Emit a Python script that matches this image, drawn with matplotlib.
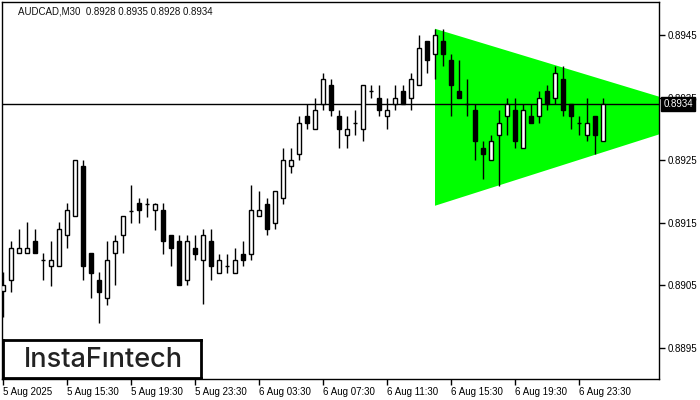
import matplotlib
matplotlib.use("Agg")
import matplotlib.pyplot as plt
from matplotlib.patches import Polygon, Rectangle

# ---- data (AUDCAD M30) ----
opens = [0.89040, 0.89059, 0.89101, 0.89101, 0.89120, 0.89091, 0.89080, 0.89080, 0.89130, 0.89160,
         0.89240, 0.89101, 0.89059, 0.89030, 0.89101, 0.89130, 0.89169, 0.89181, 0.89180, 0.89170,
         0.89170, 0.89130, 0.89120, 0.89059, 0.89110, 0.89090, 0.89120, 0.89070, 0.89080, 0.89070,
         0.89100, 0.89100, 0.89160, 0.89180, 0.89150, 0.89190, 0.89240, 0.89260, 0.89320, 0.89300,
         0.89340, 0.89370, 0.89320, 0.89290, 0.89310, 0.89300, 0.89360, 0.89350, 0.89320, 0.89340,
         0.89360, 0.89350, 0.89370, 0.89440, 0.89420, 0.89440, 0.89410, 0.89360, 0.89340, 0.89330,
         0.89270, 0.89250, 0.89290, 0.89320, 0.89330, 0.89270, 0.89320, 0.89320, 0.89360, 0.89350,
         0.89380, 0.89340, 0.89310, 0.89290, 0.89320, 0.89280]
highs = [0.89071, 0.89121, 0.89140, 0.89151, 0.89140, 0.89101, 0.89120, 0.89151, 0.89182, 0.89250,
         0.89250, 0.89101, 0.89071, 0.89120, 0.89130, 0.89160, 0.89210, 0.89190, 0.89190, 0.89181,
         0.89181, 0.89130, 0.89130, 0.89130, 0.89130, 0.89140, 0.89140, 0.89100, 0.89100, 0.89110,
         0.89120, 0.89210, 0.89200, 0.89190, 0.89200, 0.89270, 0.89270, 0.89320, 0.89340, 0.89350,
         0.89390, 0.89380, 0.89330, 0.89320, 0.89330, 0.89370, 0.89370, 0.89370, 0.89350, 0.89370,
         0.89370, 0.89390, 0.89450, 0.89440, 0.89460, 0.89460, 0.89420, 0.89410, 0.89380, 0.89340,
         0.89280, 0.89290, 0.89330, 0.89350, 0.89350, 0.89340, 0.89340, 0.89360, 0.89370, 0.89400,
         0.89400, 0.89340, 0.89320, 0.89350, 0.89320, 0.89350]
lows = [0.88999, 0.89039, 0.89101, 0.89101, 0.89101, 0.89059, 0.89049, 0.89080, 0.89110, 0.89160,
        0.89059, 0.89030, 0.88990, 0.89019, 0.89050, 0.89101, 0.89150, 0.89150, 0.89159, 0.89139,
        0.89100, 0.89080, 0.89050, 0.89050, 0.89090, 0.89020, 0.89059, 0.89070, 0.89070, 0.89070,
        0.89080, 0.89090, 0.89160, 0.89130, 0.89140, 0.89180, 0.89230, 0.89250, 0.89300, 0.89300,
        0.89330, 0.89320, 0.89270, 0.89270, 0.89290, 0.89280, 0.89350, 0.89320, 0.89300, 0.89330,
        0.89340, 0.89330, 0.89370, 0.89390, 0.89380, 0.89400, 0.89320, 0.89350, 0.89320, 0.89250,
        0.89219, 0.89250, 0.89209, 0.89290, 0.89270, 0.89270, 0.89310, 0.89310, 0.89330, 0.89340,
        0.89320, 0.89300, 0.89290, 0.89280, 0.89260, 0.89280]
closes = [0.89050, 0.89110, 0.89110, 0.89110, 0.89101, 0.89090, 0.89090, 0.89140, 0.89170, 0.89250,
          0.89080, 0.89070, 0.89039, 0.89090, 0.89120, 0.89160, 0.89170, 0.89170, 0.89180, 0.89180,
          0.89120, 0.89110, 0.89050, 0.89120, 0.89100, 0.89130, 0.89080, 0.89090, 0.89080, 0.89090,
          0.89090, 0.89170, 0.89170, 0.89140, 0.89200, 0.89250, 0.89250, 0.89310, 0.89310, 0.89330,
          0.89380, 0.89330, 0.89300, 0.89300, 0.89310, 0.89370, 0.89360, 0.89330, 0.89330, 0.89350,
          0.89340, 0.89380, 0.89430, 0.89410, 0.89450, 0.89420, 0.89370, 0.89350, 0.89340, 0.89280,
          0.89260, 0.89280, 0.89310, 0.89340, 0.89280, 0.89330, 0.89310, 0.89350, 0.89340, 0.89390,
          0.89330, 0.89320, 0.89310, 0.89310, 0.89290, 0.89340]

x_tick_bars = [0, 8, 16, 24, 32, 40, 48, 56, 64, 72]
x_tick_labels = ["5 Aug 2025", "5 Aug 15:30", "5 Aug 19:30", "5 Aug 23:30", "6 Aug 03:30",
                 "6 Aug 07:30", "6 Aug 11:30", "6 Aug 15:30", "6 Aug 19:30", "6 Aug 23:30"]
y_ticks = [0.8895, 0.8905, 0.8915, 0.8925, 0.8935, 0.8945]

# triangle pattern (bar index, price)
tri_x = [54, 54, 89.6]
tri_y = [0.89460, 0.89177, 0.89322]
current_price = 0.8934
title = "AUDCAD,M30  0.8928 0.8935 0.8928 0.8934"

# ---- figure ----
W, H = 700, 400
fig = plt.figure(figsize=(7, 4), dpi=100)
fig.patch.set_facecolor("white")
L, R, T, B = 2, 659, 2, 379
ax = fig.add_axes([L / W, 1 - B / H, (R - L) / W, (B - T) / H])
ax.set_xlim(-0.125, 82)
ax.set_ylim(0.88900, 0.895028)

for s in ax.spines.values():
    s.set_color("black")
    s.set_linewidth(1)

# triangle
ax.add_patch(Polygon(list(zip(tri_x, tri_y)), closed=True, facecolor="#00FF00",
                     edgecolor="none", zorder=1))

# current price line
ax.axhline(current_price, color="black", lw=1, zorder=2)

# candles
bw = 0.62
for i, (o, h, l, c) in enumerate(zip(opens, highs, lows, closes)):
    ax.vlines(i, l, h, color="black", lw=1, zorder=3)
    bot = min(o, c)
    ht = abs(c - o)
    if ht < 0.000015:
        ax.hlines(o, i - bw / 2, i + bw / 2, color="black", lw=1, zorder=4)
    else:
        fc = "white" if c > o else "black"
        ax.add_patch(Rectangle((i - bw / 2, bot), bw, ht, facecolor=fc,
                               edgecolor="black", lw=1, zorder=4))

# axes ticks
ax.yaxis.tick_right()
ax.set_yticks(y_ticks)
ax.set_yticklabels([f"{v:.4f}" for v in y_ticks], fontsize=7, family="Liberation Sans")
ax.tick_params(axis="y", direction="out", length=4, width=1, pad=2, colors="black")
ax.set_xticks(x_tick_bars)
ax.set_xticklabels(x_tick_labels, fontsize=7, family="Liberation Sans", ha="left")
ax.tick_params(axis="x", direction="out", length=4, width=1, pad=2, colors="black")

# current price tag
ax.annotate(f"{current_price:.4f}", xy=(1.0, current_price), xycoords=("axes fraction", "data"),
            xytext=(3, 0), textcoords="offset points", va="center", ha="left",
            fontsize=7, family="Liberation Sans", color="white",
            bbox=dict(boxstyle="square,pad=0.2", facecolor="black", edgecolor="black"),
            annotation_clip=False, zorder=6)

# title
fig.text(18 / W, 1 - 14 / H, title, fontsize=7, family="Liberation Sans", color="#111111",
         va="baseline", ha="left")

# logo
logo_ax = fig.add_axes([3 / W, 1 - 378 / H, 198 / W, 38 / H])
logo_ax.set_xticks([])
logo_ax.set_yticks([])
logo_ax.set_facecolor("white")
for s in logo_ax.spines.values():
    s.set_color("black")
    s.set_linewidth(2)
logo_ax.text(0.505, 0.47, "InstaF\u0131ntech", fontsize=19.5, family="Inter", fontweight="medium",
             color="#222222", ha="center", va="center", transform=logo_ax.transAxes)

fig.savefig("out.png", dpi=100)
